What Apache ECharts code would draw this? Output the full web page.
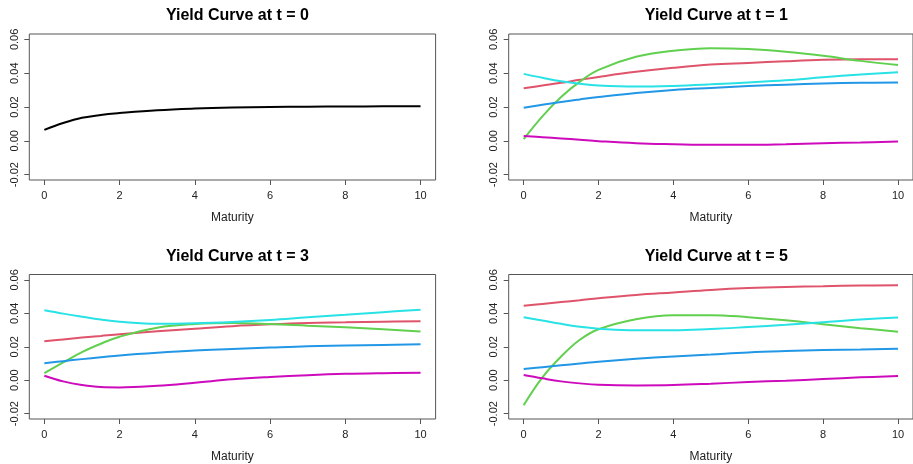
<!DOCTYPE html>
<html>
<head>
<meta charset="utf-8">
<script src="https://cdn.jsdelivr.net/npm/echarts@6/dist/echarts.min.js"></script>
<style>html,body{margin:0;padding:0;background:#fff;}#c{width:913px;height:464px;}</style>
</head>
<body>
<div id="c"></div>
<script>
// Maturities (years)
var maturities = [0, 0.5, 1, 1.5, 2, 3, 4, 5, 6, 7, 8, 9, 10];
var xTicks = [0, 2, 4, 6, 8, 10];
var yTicks = [-0.02, 0, 0.02, 0.04, 0.06];
var panelTitles = ["Yield Curve at t = 0", "Yield Curve at t = 1", "Yield Curve at t = 3", "Yield Curve at t = 5"];

// t = 0 (single initial curve)
var t0_curve = [0.0065, 0.0105, 0.0136, 0.0153, 0.0164, 0.0181, 0.0191, 0.0197, 0.0200, 0.0202, 0.0203, 0.0204, 0.0205];

// t = 1
var t1_red     = [0.0311, 0.0327, 0.0343, 0.0361, 0.0378, 0.0408, 0.0432, 0.0451, 0.0461, 0.0471, 0.0479, 0.0482, 0.0482];
var t1_green   = [0.0010, 0.0145, 0.0259, 0.0350, 0.0420, 0.0497, 0.0533, 0.0548, 0.0543, 0.0527, 0.0503, 0.0473, 0.0448];
var t1_blue    = [0.0196, 0.0213, 0.0230, 0.0245, 0.0259, 0.0283, 0.0301, 0.0313, 0.0324, 0.0332, 0.0339, 0.0343, 0.0345];
var t1_cyan    = [0.0396, 0.0373, 0.0352, 0.0337, 0.0327, 0.0321, 0.0325, 0.0334, 0.0345, 0.0358, 0.0376, 0.0392, 0.0406];
var t1_magenta = [0.0028, 0.0021, 0.0014, 0.0006, -0.0002, -0.0014, -0.0020, -0.0024, -0.0024, -0.0020, -0.0014, -0.0010, -0.0004];

// t = 3
var t3_red     = [0.0233, 0.0244, 0.0255, 0.0265, 0.0275, 0.0292, 0.0308, 0.0323, 0.0334, 0.0342, 0.0346, 0.0350, 0.0352];
var t3_green   = [0.0042, 0.0106, 0.0168, 0.0218, 0.0260, 0.0314, 0.0336, 0.0342, 0.0336, 0.0326, 0.0316, 0.0304, 0.0291];
var t3_blue    = [0.0102, 0.0114, 0.0126, 0.0137, 0.0148, 0.0164, 0.0177, 0.0186, 0.0195, 0.0203, 0.0207, 0.0211, 0.0215];
var t3_cyan    = [0.0418, 0.0398, 0.0380, 0.0363, 0.0350, 0.0337, 0.0340, 0.0348, 0.0360, 0.0376, 0.0391, 0.0407, 0.0421];
var t3_magenta = [0.0027, -0.0007, -0.0029, -0.0041, -0.0043, -0.0033, -0.0015, 0.0005, 0.0019, 0.0030, 0.0038, 0.0042, 0.0044];

// t = 5
var t5_red     = [0.0445, 0.0456, 0.0467, 0.0478, 0.0490, 0.0510, 0.0525, 0.0540, 0.0551, 0.0558, 0.0562, 0.0566, 0.0568];
var t5_green   = [-0.0150, 0.0017, 0.0142, 0.0242, 0.0305, 0.0365, 0.0389, 0.0389, 0.0377, 0.0359, 0.0335, 0.0311, 0.0290];
var t5_blue    = [0.0067, 0.0078, 0.0089, 0.0100, 0.0111, 0.0128, 0.0142, 0.0154, 0.0166, 0.0174, 0.0180, 0.0184, 0.0188];
var t5_cyan    = [0.0377, 0.0357, 0.0337, 0.0319, 0.0308, 0.0298, 0.0298, 0.0306, 0.0318, 0.0331, 0.0347, 0.0363, 0.0375];
var t5_magenta = [0.0031, 0.0011, -0.0007, -0.0019, -0.0027, -0.0031, -0.0029, -0.0021, -0.0011, -0.0003, 0.0007, 0.0017, 0.0025];

var COLORS = {black: '#000000', red: '#DF536B', green: '#61D04F', blue: '#2297E6', cyan: '#28E2E5', magenta: '#CD0BBC'};

var panels = [
  [['black', t0_curve]],
  [['red', t1_red], ['green', t1_green], ['blue', t1_blue], ['cyan', t1_cyan], ['magenta', t1_magenta]],
  [['red', t3_red], ['green', t3_green], ['blue', t3_blue], ['cyan', t3_cyan], ['magenta', t3_magenta]],
  [['red', t5_red], ['green', t5_green], ['blue', t5_blue], ['cyan', t5_cyan], ['magenta', t5_magenta]]
];

var grids = [
  {left: 29.3, top: 34, width: 406.3, height: 146},
  {left: 508.7, top: 34, width: 405.3, height: 146},
  {left: 29.3, top: 274.5, width: 406.3, height: 145.6},
  {left: 508.7, top: 274.5, width: 405.3, height: 145.6}
];

var FONT = '"Liberation Sans", Arial, Helvetica, sans-serif';
var option = {
  animation: false,
  backgroundColor: '#ffffff',
  title: [], grid: [], xAxis: [], yAxis: [], series: []
};

grids.forEach(function (g, i) {
  option.grid.push({left: g.left, top: g.top, width: g.width, height: g.height, show: true,
    borderColor: '#555', borderWidth: 1, backgroundColor: 'transparent', containLabel: false});
  option.title.push({
    text: panelTitles[i], left: g.left + g.width / 2, top: g.top - 31, textAlign: 'center',
    textStyle: {fontFamily: FONT, fontWeight: 'bold', fontSize: 16, color: '#000'}
  });
  option.xAxis.push({
    type: 'value', gridIndex: i, min: -0.4, max: 10.4, position: 'bottom',
    name: 'Maturity', nameLocation: 'middle', nameGap: 32,
    nameTextStyle: {fontFamily: FONT, fontSize: 12, color: '#222'},
    axisLine: {show: false, onZero: false},
    axisTick: {show: true, inside: false, length: 5, customValues: xTicks, lineStyle: {color: '#555'}},
    axisLabel: {show: true, customValues: xTicks, margin: 10, fontFamily: FONT, fontSize: 11, color: '#222',
      formatter: function (v) { return String(v); }},
    splitLine: {show: false}
  });
  option.yAxis.push({
    type: 'value', gridIndex: i, min: -0.0232, max: 0.0632, position: 'left',
    axisLine: {show: false, onZero: false},
    axisTick: {show: true, inside: false, length: 5, customValues: yTicks, lineStyle: {color: '#555'}},
    axisLabel: {show: true, customValues: yTicks, rotate: 90, margin: 9, fontFamily: FONT, fontSize: 11, color: '#222',
      formatter: function (v) { return v.toFixed(2); }},
    splitLine: {show: false}
  });
  panels[i].forEach(function (s) {
    option.series.push({
      type: 'line', xAxisIndex: i, yAxisIndex: i, showSymbol: false, smooth: 0.4,
      lineStyle: {color: COLORS[s[0]], width: 2}, itemStyle: {color: COLORS[s[0]]},
      data: maturities.map(function (m, k) { return [m, s[1][k]]; })
    });
  });
});

var chart = echarts.init(document.getElementById('c'), null, {renderer: 'canvas'});
chart.setOption(option);
</script>
</body>
</html>
